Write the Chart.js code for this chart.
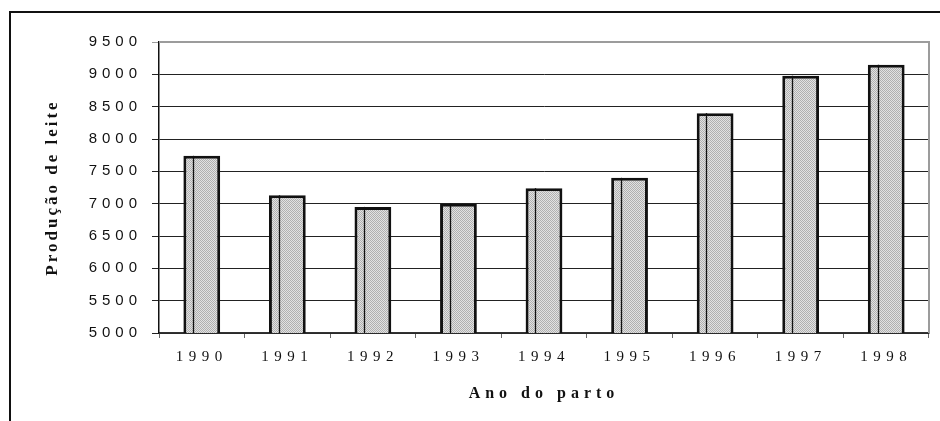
<!DOCTYPE html>
<html>
<head>
<meta charset="utf-8">
<script src="https://cdn.jsdelivr.net/npm/chart.js@4.4.0/dist/chart.umd.min.js"></script>
<style>
  html, body { margin: 0; padding: 0; background: #fff; }
  #wrap { position: relative; width: 940px; height: 421px; overflow: hidden; }
  #chartCanvas { position: absolute; left: 0; top: 0; }
  #frame { position: absolute; left: 9px; top: 11px; width: 940px; height: 420px;
           border-top: 2px solid #111; border-left: 2px solid #111; pointer-events: none; }
</style>
</head>
<body>
<div id="wrap">
  <canvas id="chartCanvas" width="940" height="421"></canvas>
  <div id="frame"></div>
</div>
<script>
// dados
const anos = ['1990', '1991', '1992', '1993', '1994', '1995', '1996', '1997', '1998'];
const producao = [7740, 7130, 6950, 7000, 7240, 7400, 8400, 8980, 9150];
const yMin = 5000;
const yMax = 9500;
const yStep = 500;
const tituloX = 'Ano do parto';
const tituloY = 'Produção de leite';

// espaçamento entre letras (Chart.js não tem opção pra isso)
const espacos = {
  x: { ticks: '5.5px', title: '5px' },
  y: { ticks: '5px', title: '3px' },
};

function makeHatch() {
  const c = document.createElement('canvas');
  c.width = 2;
  c.height = 2;
  const g = c.getContext('2d');
  g.fillStyle = '#e2e2e2';
  g.fillRect(0, 0, 2, 2);
  g.fillStyle = '#b0b0b0';
  g.fillRect(0, 0, 1, 1);
  g.fillRect(1, 1, 1, 1);
  return g.createPattern(c, 'repeat');
}

const letterSpacing = {
  id: 'letterSpacing',
  afterLayout(chart) {
    Object.keys(espacos).forEach((id) => {
      const sc = chart.scales[id];
      if (!sc || sc._spaced) return;
      sc._spaced = true;
      const drawLabels = sc.drawLabels;
      const drawTitle = sc.drawTitle;
      sc.drawLabels = function (area) {
        this.ctx.save();
        this.ctx.letterSpacing = espacos[id].ticks;
        drawLabels.call(this, area);
        this.ctx.restore();
      };
      sc.drawTitle = function () {
        this.ctx.save();
        this.ctx.letterSpacing = espacos[id].title;
        drawTitle.call(this);
        this.ctx.restore();
      };
    });
  },
};

// borda cinza do lado direito e de cima da área do gráfico
const plotFrame = {
  id: 'plotFrame',
  beforeDatasetsDraw(chart) {
    const { ctx, chartArea: a } = chart;
    ctx.save();
    ctx.strokeStyle = '#9c9c9c';
    ctx.lineWidth = 2;
    ctx.beginPath();
    ctx.moveTo(a.left, a.top);
    ctx.lineTo(a.right, a.top);
    ctx.lineTo(a.right, a.bottom);
    ctx.stroke();
    ctx.restore();
  },
};

// linha vertical dentro de cada barra
const innerLine = {
  id: 'innerLine',
  afterDatasetsDraw(chart) {
    const ctx = chart.ctx;
    const bottom = chart.chartArea.bottom;
    chart.getDatasetMeta(0).data.forEach((bar) => {
      const left = bar.x - bar.width / 2;
      const x = Math.round(left + bar.width * 0.265) + 0.5;
      ctx.save();
      ctx.strokeStyle = '#111';
      ctx.lineWidth = 1.3;
      ctx.beginPath();
      ctx.moveTo(x, bar.y);
      ctx.lineTo(x, Math.min(bar.base, bottom));
      ctx.stroke();
      ctx.restore();
    });
  },
};

const ctx = document.getElementById('chartCanvas').getContext('2d');

new Chart(ctx, {
  type: 'bar',
  data: {
    labels: anos,
    datasets: [
      {
        data: producao,
        backgroundColor: makeHatch(),
        borderColor: '#111',
        borderWidth: 3,
        borderSkipped: false,
        categoryPercentage: 1,
        barPercentage: 0.43,
      },
    ],
  },
  plugins: [letterSpacing, plotFrame, innerLine],
  options: {
    responsive: false,
    animation: false,
    layout: { padding: { top: 42, right: 11, left: 0, bottom: 0 } },
    plugins: {
      legend: { display: false },
      tooltip: { enabled: false },
    },
    scales: {
      x: {
        afterFit: (s) => { s.height = 88; },
        grid: { drawOnChartArea: false, drawTicks: true, tickLength: 5, color: '#666' },
        border: { color: '#333', width: 1.5 },
        ticks: {
          color: '#111',
          padding: 10,
          maxRotation: 0,
          font: { family: '"Liberation Serif", "Times New Roman", serif', size: 15 },
        },
        title: {
          display: true,
          text: tituloX,
          color: '#111',
          padding: { top: 0, bottom: 18 },
          font: { family: '"Liberation Serif", "Times New Roman", serif', size: 16, weight: 'bold' },
        },
      },
      y: {
        min: yMin,
        max: yMax,
        afterFit: (s) => { s.width = 159; },
        grid: {
          tickLength: 7,
          color: (c) => (c.tick && c.tick.value === yMax ? '#9c9c9c' : '#222'),
        },
        border: { color: '#111', width: 1.5 },
        ticks: {
          stepSize: yStep,
          color: '#111',
          padding: 10,
          callback: (v) => String(v),
          font: { family: '"Liberation Sans", Arial, sans-serif', size: 15 },
        },
        title: {
          display: true,
          text: tituloY,
          color: '#111',
          padding: { top: 42, bottom: 0 },
          font: { family: '"Liberation Serif", "Times New Roman", serif', size: 17, weight: 'bold' },
        },
      },
    },
  },
});
</script>
</body>
</html>
